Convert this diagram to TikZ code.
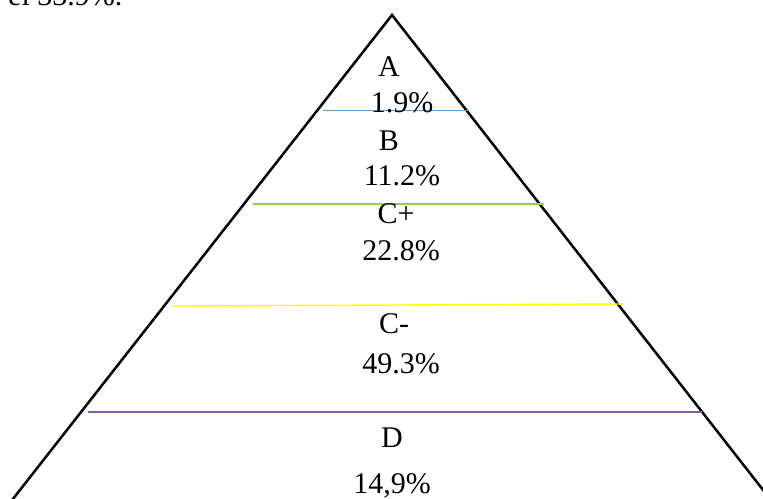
\documentclass[tikz,border=0pt]{standalone}
\usepackage{fontspec}
\setmainfont{Liberation Serif}
\usepackage{xcolor}
\definecolor{TierA}{RGB}{91,155,213}
\definecolor{TierB}{RGB}{146,208,80}
\definecolor{TierC}{RGB}{255,255,0}
\definecolor{TierD}{RGB}{128,90,180}

\begin{document}
\begin{tikzpicture}[
  x=1pt, y=-1pt,
  grade/.style={anchor=base, inner sep=0pt, font=\fontsize{30}{36}\selectfont},
  divider/.style={line width=1.4pt},
  outline/.style={line width=2.5pt, line join=miter}
]
  \useasboundingbox (0,0) rectangle (763,498);

  % pyramid outline
  \coordinate (apex) at (392,15);
  \coordinate (baseL) at (9,504);
  \coordinate (baseR) at (774,504);
  \draw[outline] (baseL) -- (apex) -- (baseR);

  % tier dividers
  \draw[divider, TierA] (323,110.5) -- (469,110.5);
  \draw[divider, TierB] (253,204) -- (544,204);
  \draw[divider, TierC] (172,306) -- (623,304);
  \draw[divider, TierD] (88,412) -- (702,412);

  % grade labels
  \node[grade] (gA) at (389,76) {A};
  \node[grade] (pA) at (402,112.5) {1.9\%};
  \node[grade] (gB) at (389,150) {B};
  \node[grade] (pB) at (402,185) {11.2\%};
  \node[grade] (gCp) at (396,223) {C+};
  \node[grade] (pCp) at (401,260) {22.8\%};
  \node[grade] (gCm) at (394,333) {C-};
  \node[grade] (pCm) at (401,373) {49.3\%};
  \node[grade] (gD) at (392,447) {D};
  \node[grade] (pD) at (392,493) {14,9\%};

  % text cut off above
  \node[grade, anchor=base west] (prev) at (8,5) {el 33.9\%.};
\end{tikzpicture}
\end{document}
